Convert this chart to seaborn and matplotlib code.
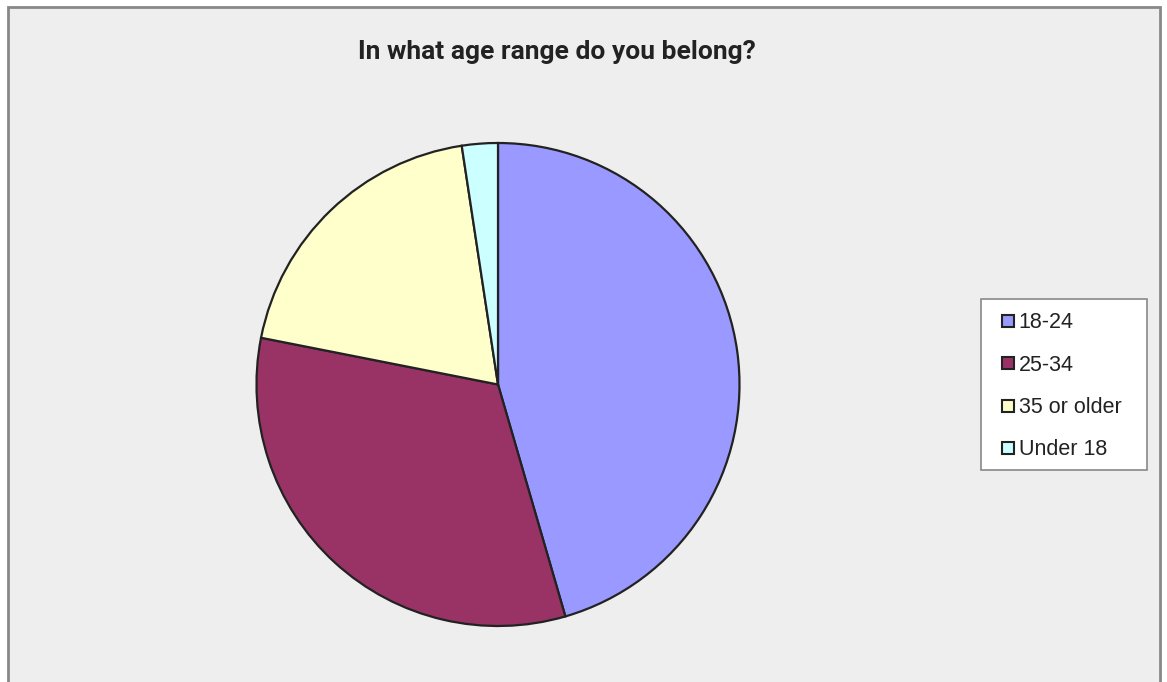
import matplotlib.pyplot as plt
import matplotlib.patches as mpatches
from matplotlib.lines import Line2D
import seaborn as sns

# Survey answers (shares in percent)
labels = ['18-24', '25-34', '35 or older', 'Under 18']
shares = [45.5, 32.6, 19.5, 2.4]
colors = ['#9999FF', '#993366', '#FFFFCC', '#CCFFFF']
title = "In what age range do you belong?"

sns.set_style("white")
plt.rcParams['font.family'] = ['Liberation Sans', 'DejaVu Sans']

W, H = 1167, 682
fig = plt.figure(figsize=(W / 100, H / 100), dpi=100)
fig.patch.set_facecolor('white')

# grey chart area with frame (bottom runs off the image)
bg = mpatches.Rectangle((8 / W, -0.05), (1160 - 8) / W, 1.05 - 7 / H,
                        transform=fig.transFigure, facecolor='#EEEEEE',
                        edgecolor='#888888', linewidth=2, zorder=-5)
fig.patches.append(bg)

cx, cy, r = 498, 384.5, 241.5
ax = fig.add_axes([(cx - r) / W, (H - cy - r) / H, 2 * r / W, 2 * r / H])
ax.set_facecolor('none')
wedges, _ = ax.pie(shares, colors=colors, startangle=90, counterclock=False,
                   wedgeprops=dict(edgecolor='#222222', linewidth=1.6, clip_on=False))
ax.set_xlim(-1, 1)
ax.set_ylim(-1, 1)
ax.set_aspect('equal')
ax.axis('off')

fig.text(557 / W, 1 - 52 / H, title, ha='center', va='center',
         fontsize=19, fontweight='bold', color='#222222', family=['Roboto', 'DejaVu Sans'])

# legend box drawn separately so its padding can match the original
lbox = mpatches.Rectangle((981 / W, 1 - 470 / H), (1147 - 981) / W, (470 - 299) / H,
                          transform=fig.transFigure, facecolor='white',
                          edgecolor='#888888', linewidth=1.2, zorder=-1)
fig.patches.append(lbox)

handles = [Line2D([], [], linestyle='none', marker='s', markersize=8,
                  markerfacecolor=c, markeredgecolor='#222222', markeredgewidth=1.5)
           for c in colors]
leg = fig.legend(handles, labels, loc='upper left',
                 bbox_to_anchor=(997 / W, 1 - 312.5 / H), bbox_transform=fig.transFigure,
                 fontsize=15.5, frameon=False,
                 handlelength=1.0, handletextpad=0.0,
                 labelspacing=0.99, borderpad=0, borderaxespad=0)
for t in leg.get_texts():
    t.set_color('#222222')

fig.savefig('out.png', dpi=100)
